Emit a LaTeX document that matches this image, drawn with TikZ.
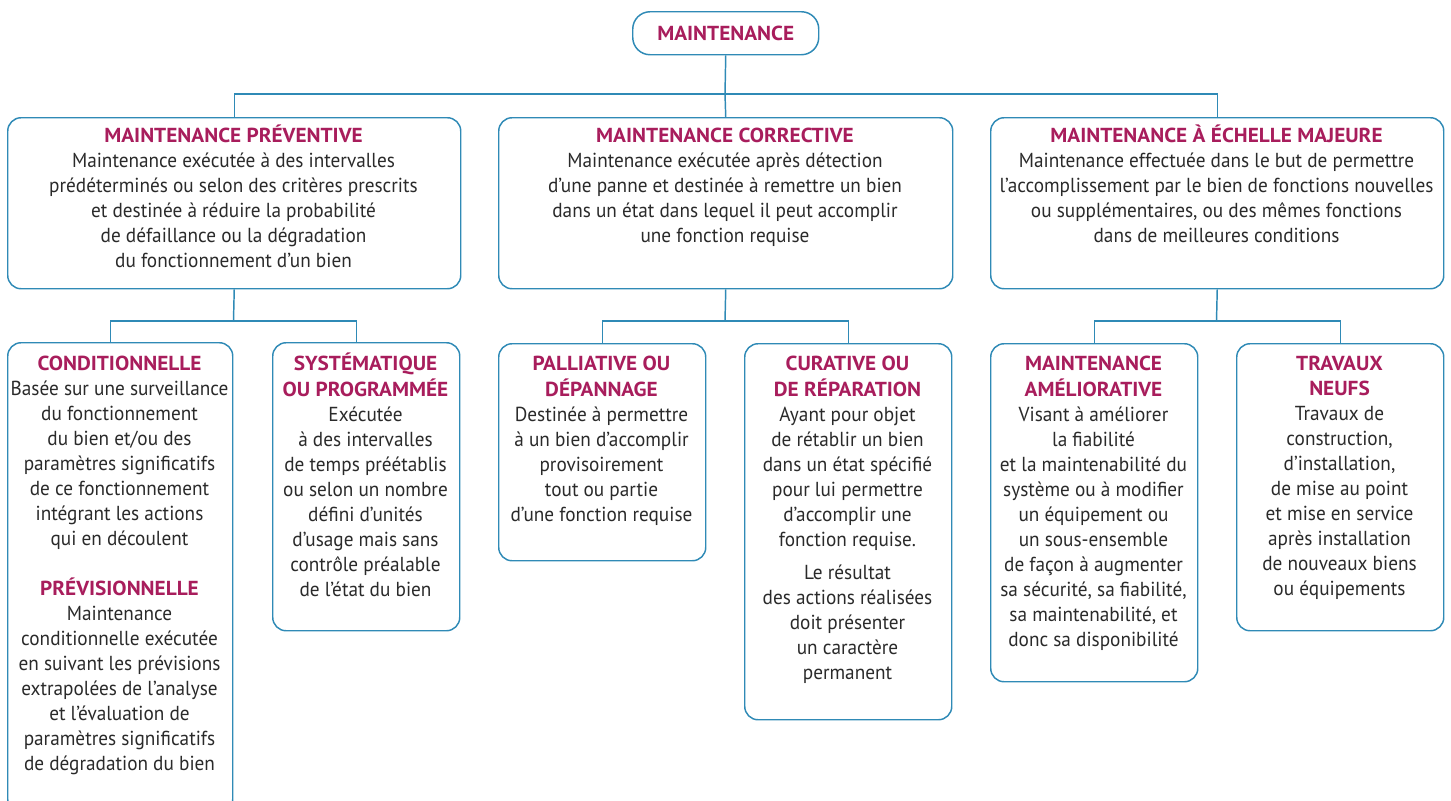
\documentclass[tikz,border=0pt]{standalone}
\usepackage{fontspec}
\setmainfont{PT Sans}[FakeStretch=0.95,BoldFeatures={FakeStretch=1.05}]
\definecolor{ln}{HTML}{2F8AB6}
\definecolor{tt}{HTML}{A81D5C}
\definecolor{tx}{HTML}{2A2A2A}
\newcommand\mkbox[6][boxs]{\node[#1,anchor=north west,minimum width={(#5-#3)*0.75pt},minimum height={(#6-#4)*0.75pt}] (#2) at (#3,#4) {};}
\newcommand\ttl[1]{\textbf{\color{tt}#1}}
\begin{document}
\begin{tikzpicture}[x=0.75pt,y=-0.75pt,
  boxs/.style={draw=ln,line width=1.1pt,rounded corners=10pt,fill=white,inner sep=0pt},
  topbox/.style={boxs,rounded corners=13pt},
  txt/.style={anchor=north,align=center,inner sep=0pt,text=tx,font=\fontsize{15.2}{18.75}\selectfont},
  conn/.style={draw=ln,line width=1.1pt}]
\useasboundingbox (0,0) rectangle (1451,800);
\clip (0,0) rectangle (1451,800);
% boxes
\mkbox[topbox]{top}{632}{11}{818}{54}
\mkbox{prev}{7}{117}{460}{288}
\mkbox{corr}{498}{117}{952}{288}
\mkbox{maj}{990}{117}{1443}{288}
\mkbox{cond}{7}{342}{232}{812}
\mkbox{syst}{272}{342}{459}{630}
\mkbox{pall}{498}{343}{705}{560}
\mkbox{cur}{744}{343}{951}{719}
\mkbox{amel}{990}{343}{1197}{681}
\mkbox{trav}{1236}{343}{1443}{630}
% connectors
\coordinate (j1) at (725,94);
\coordinate (j2) at (233.5,321);
\coordinate (j3) at (725,321);
\coordinate (j4) at (1216.5,321);
\draw[conn] (top.south) -- (j1);
\draw[conn] (prev.north) |- (j1) -| (maj.north);
\draw[conn] (j1) -- (corr.north);
\draw[conn] (prev.south) -- (j2);
\draw[conn] ([xshift=-7.5pt]cond.north) |- (j2) -| ([xshift=-7.5pt]syst.north);
\draw[conn] (corr.south) -- (j3);
\draw[conn] (pall.north) |- (j3) -| (cur.north);
\draw[conn] (maj.south) -- (j4);
\draw[conn] (amel.north) |- (j4) -| (trav.north);
% texts
\node[txt,anchor=center] (top-t) at (top.center) {\ttl{MAINTENANCE}};
\node[txt] (prev-t) at (233.5,124.5) {\strut\ttl{MAINTENANCE PRÉVENTIVE}\\
Maintenance exécutée à des intervalles\\
prédéterminés ou selon des critères prescrits\\
et destinée à réduire la probabilité\\
de défaillance ou la dégradation\\
du fonctionnement d’un bien};
\node[txt] (corr-t) at (725,124.5) {\strut\ttl{MAINTENANCE CORRECTIVE}\\
Maintenance exécutée après détection\\
d’une panne et destinée à remettre un bien\\
dans un état dans lequel il peut accomplir\\
une fonction requise};
\node[txt] (maj-t) at (1216.5,124.5) {\strut\ttl{MAINTENANCE À ÉCHELLE MAJEURE}\\
Maintenance effectuée dans le but de permettre\\
l’accomplissement par le bien de fonctions nouvelles\\
ou supplémentaires, ou des mêmes fonctions\\
dans de meilleures conditions};
\node[txt] (cond-t) at (119.5,352.5) {\strut\ttl{CONDITIONNELLE}\\
Basée sur une surveillance\\
du fonctionnement\\
du bien et/ou des\\
paramètres significatifs\\
de ce fonctionnement\\
intégrant les actions\\
qui en découlent\\[19pt]
\ttl{PRÉVISIONNELLE}\\
Maintenance\\
conditionnelle exécutée\\
en suivant les prévisions\\
extrapolées de l’analyse\\
et l’évaluation de\\
paramètres significatifs\\
de dégradation du bien};
\node[txt] (syst-t) at (365.5,352.5) {\strut\ttl{SYSTÉMATIQUE}\\
\ttl{OU PROGRAMMÉE}\\
Exécutée\\
à des intervalles\\
de temps préétablis\\
ou selon un nombre\\
défini d’unités\\
d’usage mais sans\\
contrôle préalable\\
de l’état du bien};
\node[txt] (pall-t) at (601.5,352.5) {\strut\ttl{PALLIATIVE OU}\\
\ttl{DÉPANNAGE}\\
Destinée à permettre\\
à un bien d’accomplir\\
provisoirement\\
tout ou partie\\
d’une fonction requise};
\node[txt] (cur-t) at (847.5,352.5) {\strut\ttl{CURATIVE OU}\\
\ttl{DE RÉPARATION}\\
Ayant pour objet\\
de rétablir un bien\\
dans un état spécifié\\
pour lui permettre\\
d’accomplir une\\
fonction requise.\\[6pt]
Le résultat\\
des actions réalisées\\
doit présenter\\
un caractère\\
permanent};
\node[txt] (amel-t) at (1093.5,352.5) {\strut\ttl{MAINTENANCE}\\
\ttl{AMÉLIORATIVE}\\
Visant à améliorer\\
la fiabilité\\
et la maintenabilité du\\
système ou à modifier\\
un équipement ou\\
un sous-ensemble\\
de façon à augmenter\\
sa sécurité, sa fiabilité,\\
sa maintenabilité, et\\
donc sa disponibilité};
\node[txt] (trav-t) at (1339.5,352.5) {\strut\ttl{TRAVAUX}\\
\ttl{NEUFS}\\
Travaux de\\
construction,\\
d’installation,\\
de mise au point\\
et mise en service\\
après installation\\
de nouveaux biens\\
ou équipements};
\end{tikzpicture}
\end{document}
